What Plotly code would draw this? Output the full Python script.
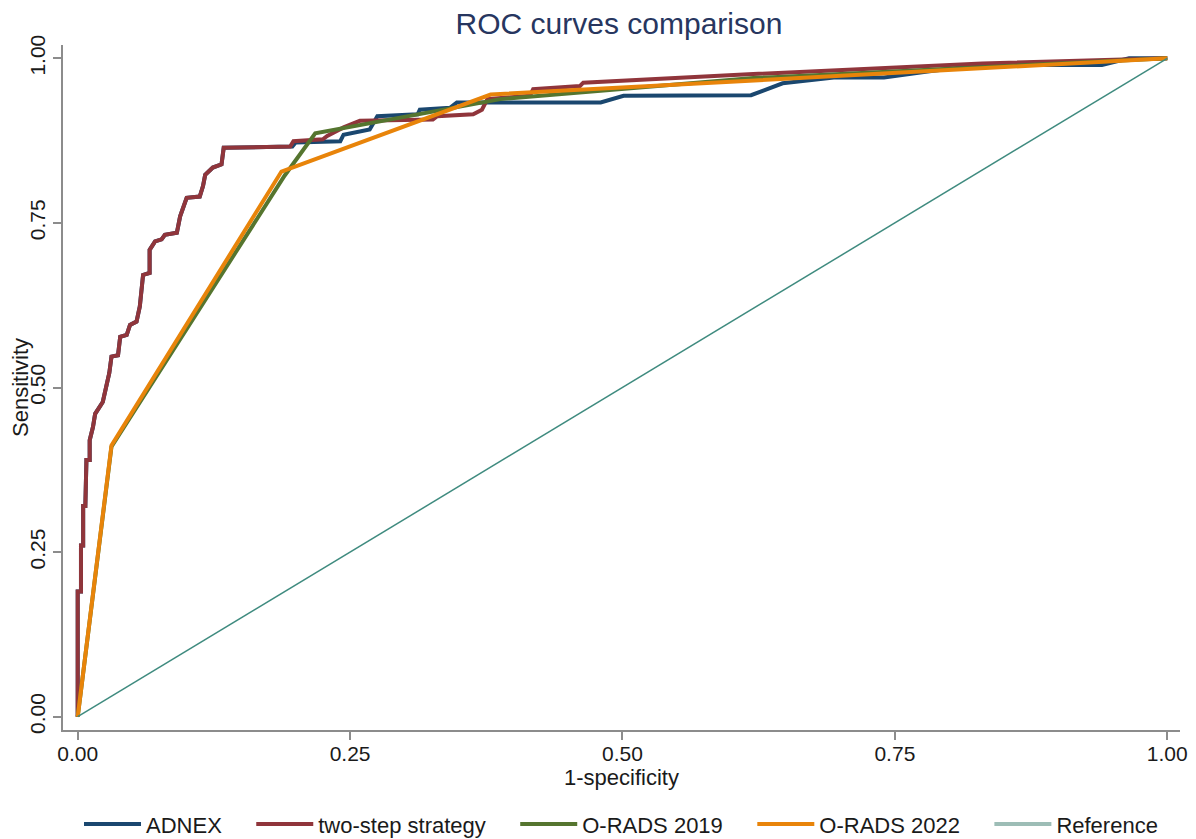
import plotly.graph_objects as go

# ---- data ----
adnex_fpr = [0, 0, 0.003, 0.003, 0.005, 0.005, 0.007, 0.008, 0.011, 0.011, 0.014, 0.016, 0.023, 0.026,
             0.029, 0.031, 0.037, 0.039, 0.045, 0.048, 0.054, 0.057, 0.059, 0.06, 0.066, 0.066, 0.071,
             0.077, 0.08, 0.091, 0.094, 0.1, 0.112, 0.115, 0.117, 0.124, 0.132, 0.134, 0.197, 0.2,
             0.241, 0.244, 0.268, 0.275, 0.312, 0.314, 0.342, 0.348, 0.48, 0.501, 0.618, 0.647,
             0.694, 0.74, 0.78, 0.83, 0.94, 0.965, 1.0]
adnex_tpr = [0, 0.19, 0.19, 0.26, 0.26, 0.32, 0.32, 0.39, 0.39, 0.42, 0.44, 0.46, 0.478, 0.501,
             0.522, 0.547, 0.549, 0.577, 0.58, 0.595, 0.6, 0.623, 0.653, 0.671, 0.674, 0.709, 0.722,
             0.725, 0.732, 0.735, 0.76, 0.788, 0.79, 0.806, 0.823, 0.834, 0.839, 0.864, 0.866, 0.872,
             0.874, 0.884, 0.892, 0.912, 0.915, 0.922, 0.925, 0.933, 0.933, 0.943, 0.944, 0.962,
             0.971, 0.971, 0.98, 0.99, 0.99, 1.0, 1.0]

twostep_fpr = [0, 0, 0.003, 0.003, 0.005, 0.005, 0.007, 0.008, 0.011, 0.011, 0.014, 0.016, 0.023, 0.026,
               0.029, 0.031, 0.037, 0.039, 0.045, 0.048, 0.054, 0.057, 0.059, 0.06, 0.066, 0.066, 0.071,
               0.077, 0.08, 0.091, 0.094, 0.1, 0.112, 0.115, 0.117, 0.124, 0.132, 0.134, 0.195, 0.198,
               0.225, 0.229, 0.244, 0.259, 0.326, 0.33, 0.363, 0.371, 0.376, 0.415, 0.418, 0.461,
               0.464, 0.57, 0.62, 0.83, 0.96, 1.0]
twostep_tpr = [0, 0.19, 0.19, 0.26, 0.26, 0.32, 0.32, 0.39, 0.39, 0.42, 0.44, 0.46, 0.478, 0.501,
               0.522, 0.547, 0.549, 0.577, 0.58, 0.595, 0.6, 0.623, 0.653, 0.671, 0.674, 0.709, 0.722,
               0.725, 0.732, 0.735, 0.76, 0.788, 0.79, 0.806, 0.823, 0.834, 0.839, 0.864, 0.866, 0.874,
               0.877, 0.882, 0.895, 0.905, 0.907, 0.912, 0.915, 0.922, 0.938, 0.943, 0.953, 0.958,
               0.963, 0.972, 0.976, 0.992, 0.998, 1.0]

orads2019_fpr = [0, 0.031, 0.19, 0.218, 0.388, 0.62, 1.0]
orads2019_tpr = [0, 0.41, 0.822, 0.886, 0.938, 0.97, 1.0]

orads2022_fpr = [0, 0.031, 0.187, 0.379, 1.0]
orads2022_tpr = [0, 0.412, 0.828, 0.945, 1.0]

ref_fpr = [0, 1]
ref_tpr = [0, 1]

tick_vals = [0, 0.25, 0.5, 0.75, 1.0]
tick_text = ["0.00", "0.25", "0.50", "0.75", "1.00"]

FONT = "Liberation Sans, Arial, Helvetica, sans-serif"
PAD = "\u00a0" * 4  # spacing after legend labels

# the page body has an 8px margin, so the figure is 8px smaller than the window
W, H = 1188, 831

fig = go.Figure()
series = [
    ("ADNEX", adnex_fpr, adnex_tpr, "#1a476f"),
    ("two-step strategy", twostep_fpr, twostep_tpr, "#90353b"),
    ("O-RADS 2019", orads2019_fpr, orads2019_tpr, "#55752f"),
    ("O-RADS 2022", orads2022_fpr, orads2022_tpr, "#e8840a"),
]
for name, xs, ys, col in series:
    fig.add_trace(go.Scatter(x=xs, y=ys, mode="lines", name=name + PAD,
                             line=dict(color=col, width=4), hoverinfo="skip"))

fig.add_trace(go.Scatter(x=ref_fpr, y=ref_tpr, mode="lines", name="Reference",
                         line=dict(color="#3f8b7f", width=1.5), showlegend=False))
fig.add_trace(go.Scatter(x=[None], y=[None], mode="lines", name="Reference",
                         line=dict(color="#9dbdb6", width=4)))

axis_common = dict(
    showgrid=False, zeroline=False, showline=True, linecolor="#8c8c8c", linewidth=1.5,
    ticks="outside", ticklen=8, tickcolor="#8c8c8c", tickwidth=1.5,
    tickvals=tick_vals, ticktext=tick_text,
    tickfont=dict(family=FONT, size=21, color="#1a1a1a"),
    mirror=False, automargin=False,
)
fig.update_xaxes(**axis_common, range=[-0.0135, 1.0117], ticklabelstandoff=-4,
                 title=dict(text="1-specificity", font=dict(family=FONT, size=22, color="#1a1a1a"),
                            standoff=0))
fig.update_yaxes(**axis_common, range=[-0.0202, 1.0202], tickangle=-90,
                 title=dict(text="Sensitivity", font=dict(family=FONT, size=22, color="#1a1a1a"),
                            standoff=9))

fig.update_layout(
    width=W, height=H,
    margin=dict(l=55, r=16, t=37, b=109),
    paper_bgcolor="white", plot_bgcolor="white",
    title=dict(text="ROC curves comparison", x=0.5143, xanchor="center", y=0.981, yanchor="middle",
               font=dict(family=FONT, size=30, color="#27365f")),
    legend=dict(orientation="h", xref="container", yref="container", x=0.516, xanchor="center",
                y=0.0177, yanchor="middle", font=dict(family=FONT, size=22, color="#1a1a1a"),
                itemwidth=57, bgcolor="rgba(0,0,0,0)"),
    showlegend=True,
)

fig.write_html("out.html")
